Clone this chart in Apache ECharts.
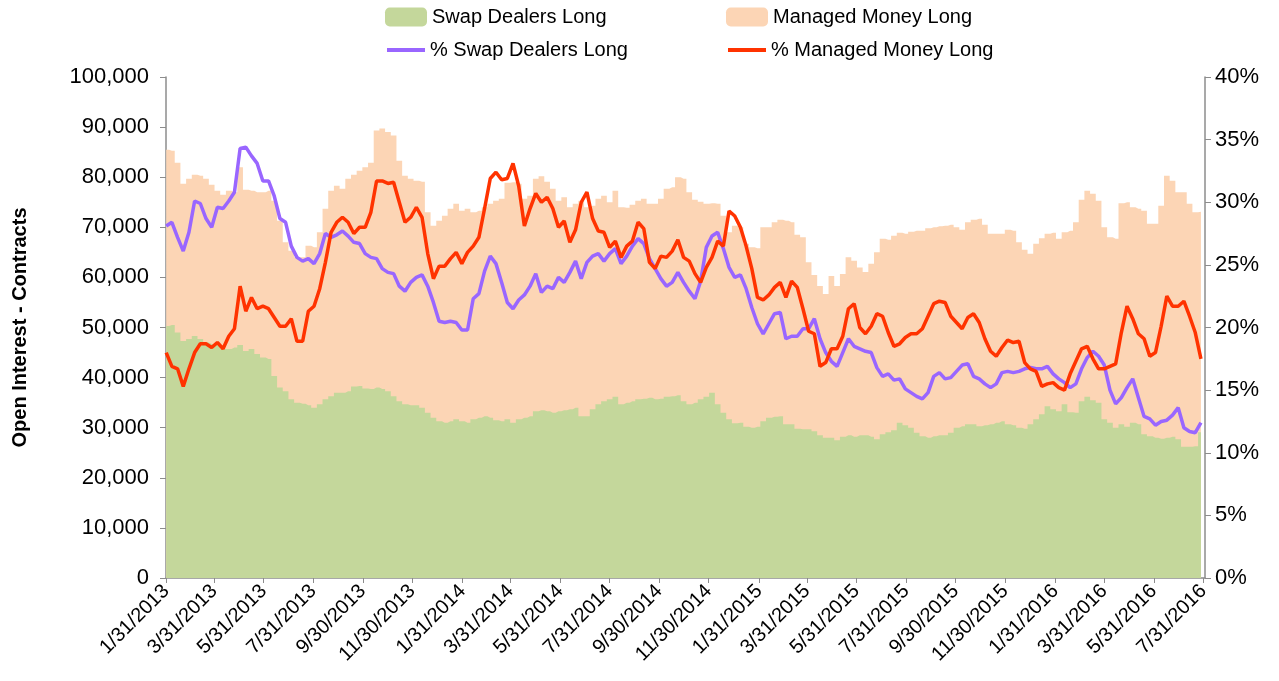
<!DOCTYPE html>
<html lang="en">
<head>
<meta charset="UTF-8">
<title>Open Interest - Swap Dealers vs Managed Money</title>
<style>
  html, body { margin: 0; padding: 0; background: #fff; }
  #root { width: 1279px; height: 681px; }
</style>
</head>
<body>
<div id="root"></div>
<script src="https://cdn.jsdelivr.net/npm/echarts@6/dist/echarts.min.js"></script>
<script>
// weekly report dates start here, one value per week
var firstWeek = '1/31/2013';
var axisEnd = '8/2/2016';

var tickLabels = ['1/31/2013', '3/31/2013', '5/31/2013', '7/31/2013', '9/30/2013', '11/30/2013',
  '1/31/2014', '3/31/2014', '5/31/2014', '7/31/2014', '9/30/2014', '11/30/2014',
  '1/31/2015', '3/31/2015', '5/31/2015', '7/31/2015', '9/30/2015', '11/30/2015',
  '1/31/2016', '3/31/2016', '5/31/2016', '7/31/2016'];

// contracts
var swapLong = [
  50300, 50500, 49000, 47300, 47700, 48300, 47700, 47000, 46700, 46500, 45700, 45700, 46000, 46500, 45300, 45700, 44700, 44000,
  43700, 40300, 38000, 37300, 35700, 35000, 34800, 34500, 34000, 34700, 35700, 36300, 37000, 37000, 37300, 38200, 38300, 37800, 37700,
  38000, 37700, 37300, 36300, 35300, 34700, 34500, 34500, 34000, 33000, 32000, 31300, 31000, 31300, 31700, 31300, 31000, 31700,
  32000, 32300, 32000, 31500, 31300, 31700, 31000, 31700, 32000, 32300, 33300, 33500, 33300, 33000, 33300, 33500, 33700, 34000, 32300,
  32300, 33700, 34700, 35300, 35700, 36200, 34700, 35000, 35300, 35700, 35800, 36000, 35700, 35800, 36200, 36300, 36500, 35300,
  34700, 35000, 35700, 36200, 37000, 34700, 33000, 31700, 30900, 31000, 30200, 30000, 30200, 31300, 32000, 32200, 32300, 30700, 30700,
  29800, 29700, 29700, 29300, 28500, 28000, 28000, 27500, 28200, 28500, 28200, 28500, 28500, 28200, 27700, 28700, 29100, 29500,
  31000, 30500, 30000, 29000, 28300, 28000, 28300, 28500, 28500, 29000, 30000, 30300, 30700, 30700, 30300, 30500, 30700, 31000, 31300,
  30700, 30500, 30000, 29800, 30700, 31700, 32700, 34300, 33700, 33300, 34700, 33100, 33000, 35300, 36200, 35500, 35000, 31700,
  31000, 30000, 30700, 30200, 31000, 30700, 28700, 28300, 28000, 27800, 28000, 28200, 27700, 26200, 26200, 26300, 29100
];
var mmLong = [
  35200, 34800, 33900, 31400, 32000, 32200, 32600, 32700, 31800, 30800, 30800, 31600, 31000, 35500, 32200, 31600, 32300, 33000,
  33600, 35000, 33300, 29700, 29600, 29000, 29200, 31800, 32000, 34300, 38000, 41000, 41300, 40700, 42400, 42300, 43000, 44200, 45200,
  51300, 52000, 51700, 52000, 48000, 45600, 45200, 44800, 45100, 40000, 38300, 40000, 41300, 42400, 43000, 42000, 42700, 41300,
  41300, 41700, 42700, 43800, 44400, 47200, 48000, 47000, 43700, 44000, 46400, 46700, 45800, 44700, 42000, 42500, 40300, 40700, 43000,
  41700, 40600, 41000, 41000, 39300, 41100, 39300, 38900, 39200, 39600, 39900, 38700, 39000, 39900, 41500, 41700, 43500, 44400,
  42300, 40500, 39400, 38500, 37800, 40000, 39300, 37300, 39400, 39000, 36500, 36000, 35600, 38700, 38000, 38800, 39200, 40600, 40300,
  38700, 38300, 33300, 31200, 29800, 28700, 32300, 30800, 32500, 35500, 35100, 33500, 32600, 34500, 37300, 39000, 38400, 38800,
  37900, 38200, 39100, 40300, 41000, 41800, 41700, 41700, 41800, 41500, 40000, 39200, 40300, 40800, 41400, 40000, 38000, 37700, 37400,
  38800, 38800, 37000, 35700, 34000, 35000, 35100, 34400, 35200, 34400, 34300, 36200, 38000, 40200, 41100, 41200, 40300, 38300,
  37000, 37700, 44100, 44800, 43000, 43000, 44600, 42400, 42700, 46500, 52300, 51100, 49300, 50800, 48500, 46700, 44000
];
// percent of open interest
var pctSwap = [
  28.1, 28.4, 27.2, 26.1, 27.6, 30.1, 29.9, 28.7, 28.0, 29.6, 29.5, 30.1, 30.8, 34.3, 34.4, 33.7, 33.1, 31.7,
  31.7, 30.5, 28.7, 28.4, 26.5, 25.6, 25.3, 25.5, 25.1, 25.9, 27.5, 27.2, 27.4, 27.7, 27.3, 26.8, 26.7, 25.9, 25.6,
  25.5, 24.7, 24.4, 24.3, 23.3, 22.9, 23.6, 24.0, 24.2, 23.3, 22.0, 20.5, 20.4, 20.5, 20.4, 19.8, 19.8, 22.3,
  22.7, 24.5, 25.7, 25.1, 23.6, 22.0, 21.5, 22.2, 22.6, 23.3, 24.3, 22.8, 23.3, 23.1, 24.0, 23.6, 24.4, 25.3, 23.9,
  25.2, 25.7, 25.9, 25.3, 25.9, 26.3, 25.1, 25.7, 26.5, 27.1, 26.7, 25.5, 24.7, 23.9, 23.3, 23.6, 24.4, 23.6,
  22.9, 22.3, 23.7, 26.4, 27.3, 27.6, 26.3, 24.8, 24.0, 24.2, 23.1, 21.6, 20.3, 19.5, 20.3, 21.1, 21.2, 19.1, 19.3,
  19.3, 19.9, 19.9, 20.7, 19.1, 18.0, 17.3, 16.9, 18.0, 19.1, 18.5, 18.3, 18.1, 18.0, 16.8, 16.1, 16.3, 15.8,
  15.9, 15.1, 14.8, 14.5, 14.3, 14.8, 16.1, 16.4, 15.9, 16.0, 16.5, 17.0, 17.1, 16.1, 15.9, 15.5, 15.2, 15.5, 16.4,
  16.5, 16.4, 16.5, 16.7, 16.8, 16.7, 16.7, 16.9, 16.3, 15.9, 15.6, 15.2, 15.5, 16.7, 17.6, 18.1, 17.7, 17.0,
  15.0, 13.9, 14.4, 15.2, 15.9, 14.4, 12.9, 12.7, 12.2, 12.5, 12.6, 13.0, 13.6, 12.0, 11.7, 11.6, 12.4
];
var pctMM = [
  18.0, 16.9, 16.7, 15.3, 16.7, 18.0, 18.7, 18.7, 18.4, 18.8, 18.3, 19.3, 19.9, 23.3, 21.3, 22.4, 21.5, 21.7,
  21.5, 20.8, 20.1, 20.1, 20.7, 18.9, 18.9, 21.3, 21.7, 23.1, 25.2, 27.6, 28.4, 28.8, 28.4, 27.5, 28.0, 28.0, 29.2,
  31.7, 31.7, 31.5, 31.6, 30.0, 28.4, 28.8, 29.6, 28.8, 25.9, 23.9, 24.9, 24.9, 25.5, 26.0, 25.1, 26.0, 26.5,
  27.2, 29.5, 31.9, 32.4, 31.8, 31.9, 33.1, 31.3, 28.1, 29.5, 30.7, 30.0, 30.4, 29.5, 28.0, 28.5, 26.8, 27.8, 30.0,
  30.8, 28.7, 27.7, 27.6, 26.4, 26.9, 25.6, 26.5, 26.9, 28.4, 27.9, 25.2, 24.7, 25.7, 25.6, 26.1, 27.0, 25.6,
  25.3, 24.3, 23.6, 24.8, 25.6, 26.9, 26.5, 29.3, 28.9, 28.0, 26.5, 24.7, 22.4, 22.2, 22.6, 23.2, 23.6, 22.4, 23.7,
  23.2, 21.5, 19.7, 19.5, 16.9, 17.2, 18.3, 18.3, 19.3, 21.5, 21.9, 20.0, 19.5, 20.1, 21.1, 20.9, 19.6, 18.5,
  18.7, 19.2, 19.5, 19.5, 19.9, 20.9, 21.9, 22.1, 22.0, 20.9, 20.4, 19.9, 20.8, 21.1, 20.4, 19.1, 18.1, 17.7, 18.4,
  19.0, 18.8, 18.9, 17.2, 16.7, 16.5, 15.3, 15.5, 15.6, 15.2, 15.0, 16.3, 17.3, 18.3, 18.5, 17.5, 16.7, 16.7,
  16.9, 17.1, 19.6, 21.7, 20.7, 19.5, 19.1, 17.7, 18.0, 20.1, 22.5, 21.7, 21.7, 22.1, 20.9, 19.6, 17.5
];

function parseDate(s) {
  var p = s.split('/');
  return new Date(+p[2], +p[0] - 1, +p[1]).getTime();
}
function fmtDate(v) {
  var d = new Date(v);
  return (d.getMonth() + 1) + '/' + d.getDate() + '/' + d.getFullYear();
}

var start = parseDate(firstWeek);
var weeks = swapLong.map(function (_, i) {
  var d = new Date(start);
  d.setDate(d.getDate() + 7 * i);
  return d.getTime();
});
function pairs(arr) {
  return arr.map(function (v, i) { return [weeks[i], v]; });
}
// managed money sits on top of swap dealers
var mmTop = mmLong.map(function (v, i) { return v + swapLong[i]; });
var tickValues = tickLabels.map(parseDate);

var font = '"Liberation Sans", Arial, sans-serif';
var gray = '#8c8c8c';
var legendText = { fontSize: 20, color: '#000', fontFamily: font };

var option = {
  animation: false,
  textStyle: { fontFamily: font, color: '#000' },
  legend: [
    { data: ['Swap Dealers Long'], left: 385, top: 7, padding: 0, icon: 'roundRect', itemWidth: 42, itemHeight: 19, textStyle: legendText },
    { data: ['Managed Money Long'], left: 726, top: 7, padding: 0, icon: 'roundRect', itemWidth: 42, itemHeight: 19, textStyle: legendText },
    { data: ['% Swap Dealers Long'], left: 387, top: 40, padding: 0, icon: 'rect', itemWidth: 38, itemHeight: 4, textStyle: legendText },
    { data: ['% Managed Money Long'], left: 728, top: 40, padding: 0, icon: 'rect', itemWidth: 38, itemHeight: 4, textStyle: legendText }
  ],
  grid: { left: 166, right: 74, top: 77, bottom: 103, outerBoundsMode: 'none', containLabel: false },
  // dates as a value axis so the month-end ticks can be placed exactly
  xAxis: {
    type: 'value',
    min: start - 6 * 3600 * 1000,
    max: parseDate(axisEnd),
    splitLine: { show: false },
    axisLine: { lineStyle: { color: gray, width: 1.5 } },
    axisTick: { show: true, customValues: tickValues, length: 5, lineStyle: { color: gray } },
    axisLabel: {
      customValues: tickValues, rotate: 45, fontSize: 20, color: '#000', fontFamily: font, margin: 10,
      showMinLabel: true, showMaxLabel: true,
      formatter: fmtDate
    }
  },
  yAxis: [
    {
      type: 'value', min: 0, max: 100000, interval: 10000,
      name: 'Open Interest - Contracts', nameLocation: 'middle', nameGap: 136,
      nameTextStyle: { fontSize: 20, fontWeight: 'bold', color: '#000', fontFamily: font },
      axisLine: { show: true, lineStyle: { color: gray, width: 1.5 } },
      axisTick: { show: true, length: 6, lineStyle: { color: gray } },
      splitLine: { show: false },
      axisLabel: {
        fontSize: 22, color: '#000', fontFamily: font, margin: 17,
        formatter: function (v) { return v.toLocaleString('en-US'); }
      }
    },
    {
      type: 'value', min: 0, max: 40, interval: 5, position: 'right',
      axisLine: { show: true, lineStyle: { color: gray, width: 1.5 } },
      axisTick: { show: true, length: 6, lineStyle: { color: gray } },
      splitLine: { show: false },
      axisLabel: { fontSize: 22, color: '#000', fontFamily: font, margin: 10, formatter: '{value}%' }
    }
  ],
  series: [
    {
      name: 'Managed Money Long', type: 'line', step: 'middle',
      symbol: 'none', lineStyle: { width: 0 },
      itemStyle: { color: '#fcd5b5' },
      areaStyle: { color: '#fcd5b5', opacity: 1 },
      data: pairs(mmTop)
    },
    {
      name: 'Swap Dealers Long', type: 'line', step: 'middle',
      symbol: 'none', lineStyle: { width: 0 },
      itemStyle: { color: '#c4d79b' },
      areaStyle: { color: '#c4d79b', opacity: 1 },
      data: pairs(swapLong)
    },
    {
      name: '% Swap Dealers Long', type: 'line', yAxisIndex: 1,
      symbol: 'none', itemStyle: { color: '#9966ff' },
      lineStyle: { color: '#9966ff', width: 3.5 },
      data: pairs(pctSwap)
    },
    {
      name: '% Managed Money Long', type: 'line', yAxisIndex: 1,
      symbol: 'none', itemStyle: { color: '#ff3300' },
      lineStyle: { color: '#ff3300', width: 3.5 },
      data: pairs(pctMM)
    }
  ]
};

var chart = echarts.init(document.getElementById('root'));
chart.setOption(option);
</script>
</body>
</html>
